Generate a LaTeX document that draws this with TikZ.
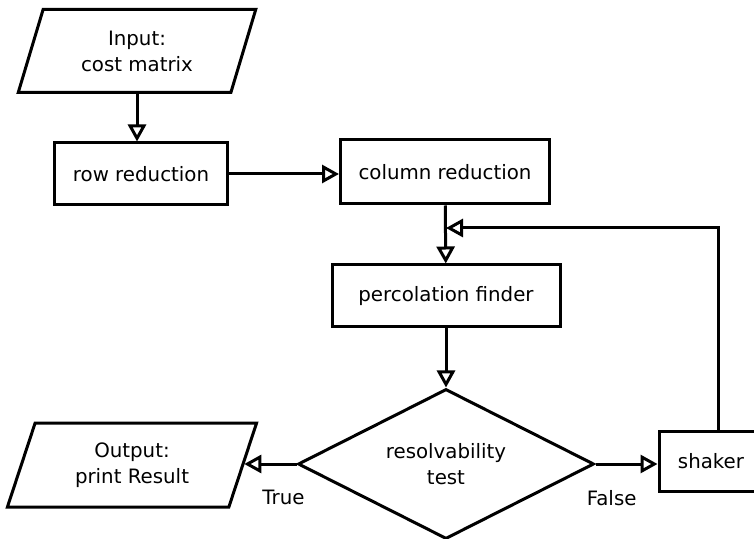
\documentclass[tikz,border=0pt]{standalone}
\usepackage{fontspec}
\setmainfont{DejaVu Sans}
\usepackage{tikz}
\usetikzlibrary{arrows.meta}
\usetikzlibrary{shapes.geometric}
\tikzstyle{block} = [draw,line width=1.5pt,align=center,inner sep=0pt]
\tikzstyle{io} = [block,trapezium,trapezium left angle=70,trapezium right angle=110,trapezium stretches=true]
\tikzstyle{decide} = [block,diamond,aspect=2]
\tikzstyle{flow} = [line width=1.5pt,->]

\begin{document}
\begin{tikzpicture}[x=0.5pt,y=-0.5pt,>={Triangle[open,length=8.5pt,width=9pt]},font=\fontsize{9.9}{13}\selectfont]

\useasboundingbox (0,0) rectangle (754,539);

% Draw blocks, inputs and outputs

    \node[io,minimum width=119pt,minimum height=41.5pt] at (137,51) (input) {Input:\\cost matrix};
    \node[block,minimum width=86.5pt,minimum height=31pt] at (141,174) (rowred) {row reduction};
    \node[block,minimum width=104.5pt,minimum height=32pt] at (445,172) (colred) {column reduction};
    \node[block,minimum width=114pt,minimum height=31pt] at (446,296) (perc) {percolation finder};
    \node[decide,minimum width=148pt,minimum height=75pt] at (446,464) (test) {resolvability\\test};
    \node[io,minimum width=125pt,minimum height=42pt] at (132,465) (output) {Output:\\print Result};
    \node[block,minimum width=52pt,minimum height=30pt] at (711,461) (shaker) {shaker};
    \coordinate (turn) at (718,228);
    \coordinate (join) at (446,228);

    \draw[flow] (input.south) -- (input.south |- rowred.north);
    \draw[flow] (rowred.east) -- (rowred.east -| colred.west);
    \draw[flow] (colred) -- (perc);
    \draw[flow] (perc) -- (test);
    \draw[flow] (test.west) -- node[below=9pt,pos=0.25] {True} (test.west -| output.east);
    \draw[flow] (test.east) -- node[below=9pt,pos=0.26] {False} (test.east -| shaker.west);
    \draw[flow] (shaker.north -| turn) -- (turn) -- (join);

\end{tikzpicture}
\end{document}
